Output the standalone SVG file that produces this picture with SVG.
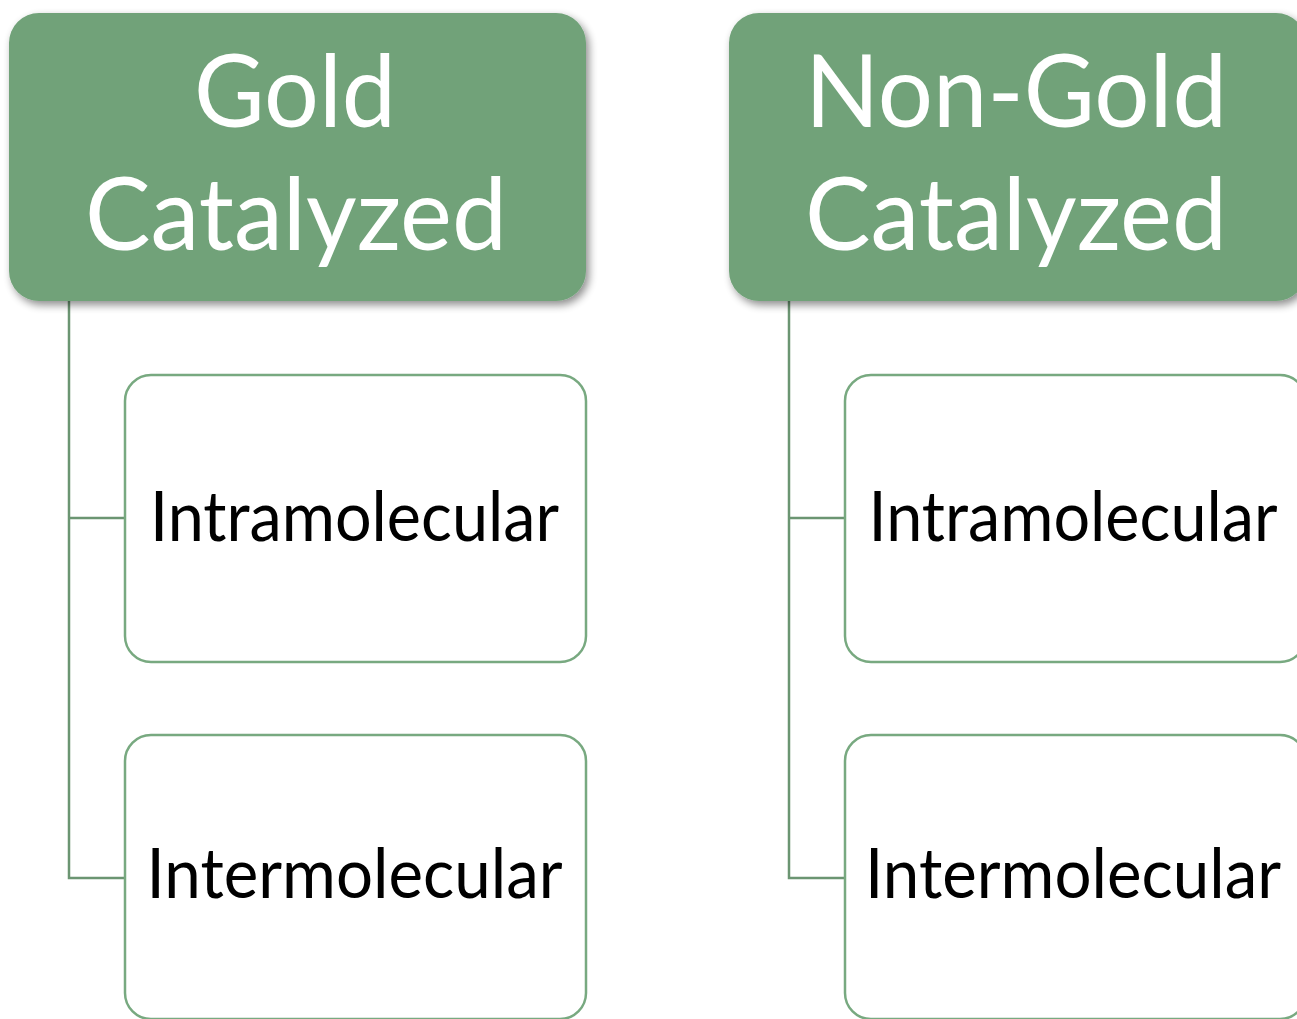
<svg xmlns="http://www.w3.org/2000/svg" width="1297" height="1019" viewBox="0 0 1297 1019">
<style>
.hdr{fill:#71a279;}
.box{fill:#ffffff;stroke:#78a980;stroke-width:2.5;}
.conn{fill:none;stroke:#6b9572;stroke-width:2.5;}
.ht{font-family:Lato,"Open Sans","Liberation Sans",sans-serif;font-size:100px;fill:#ffffff;text-anchor:middle;}
.bt{font-family:Lato,"Open Sans","Liberation Sans",sans-serif;font-size:69px;fill:#000000;text-anchor:middle;}
</style>
<defs>
<filter id="sh" x="-10%" y="-10%" width="125%" height="130%">
<feGaussianBlur in="SourceAlpha" stdDeviation="4"/>
<feOffset dx="3" dy="4" result="b"/>
<feComponentTransfer><feFuncA type="linear" slope="0.45"/></feComponentTransfer>
<feMerge><feMergeNode/><feMergeNode in="SourceGraphic"/></feMerge>
</filter>
</defs>
<rect width="1297" height="1019" fill="#ffffff"/>
<g id="connectors">
<path class="conn" d="M69 300 V518 H125 M69 518 V878 H125"/>
<path class="conn" d="M789 300 V518 H845 M789 518 V878 H845"/>
</g>
<g id="gold">
<rect class="hdr" x="9" y="13" width="577" height="288" rx="30" filter="url(#sh)"/>
<text class="ht" x="295" y="127" textLength="202" lengthAdjust="spacingAndGlyphs">Gold</text>
<text class="ht" x="296" y="250" textLength="422" lengthAdjust="spacingAndGlyphs">Catalyzed</text>
</g>
<g id="gold-intra">
<rect class="box" x="125" y="375" width="461" height="287" rx="26"/>
<text class="bt" x="354.5" y="541" textLength="409" lengthAdjust="spacingAndGlyphs">Intramolecular</text>
</g>
<g id="gold-inter">
<rect class="box" x="125" y="735" width="461" height="284" rx="26"/>
<text class="bt" x="354.5" y="898" textLength="416" lengthAdjust="spacingAndGlyphs">Intermolecular</text>
</g>
<g id="nongold">
<rect class="hdr" x="729" y="13" width="577" height="288" rx="30" filter="url(#sh)"/>
<text class="ht" x="1016" y="127" textLength="422" lengthAdjust="spacingAndGlyphs">Non-Gold</text>
<text class="ht" x="1016" y="250" textLength="422" lengthAdjust="spacingAndGlyphs">Catalyzed</text>
</g>
<g id="nongold-intra">
<rect class="box" x="845" y="375" width="461" height="287" rx="26"/>
<text class="bt" x="1073" y="541" textLength="409" lengthAdjust="spacingAndGlyphs">Intramolecular</text>
</g>
<g id="nongold-inter">
<rect class="box" x="845" y="735" width="461" height="284" rx="26"/>
<text class="bt" x="1073" y="898" textLength="416" lengthAdjust="spacingAndGlyphs">Intermolecular</text>
</g>
</svg>
